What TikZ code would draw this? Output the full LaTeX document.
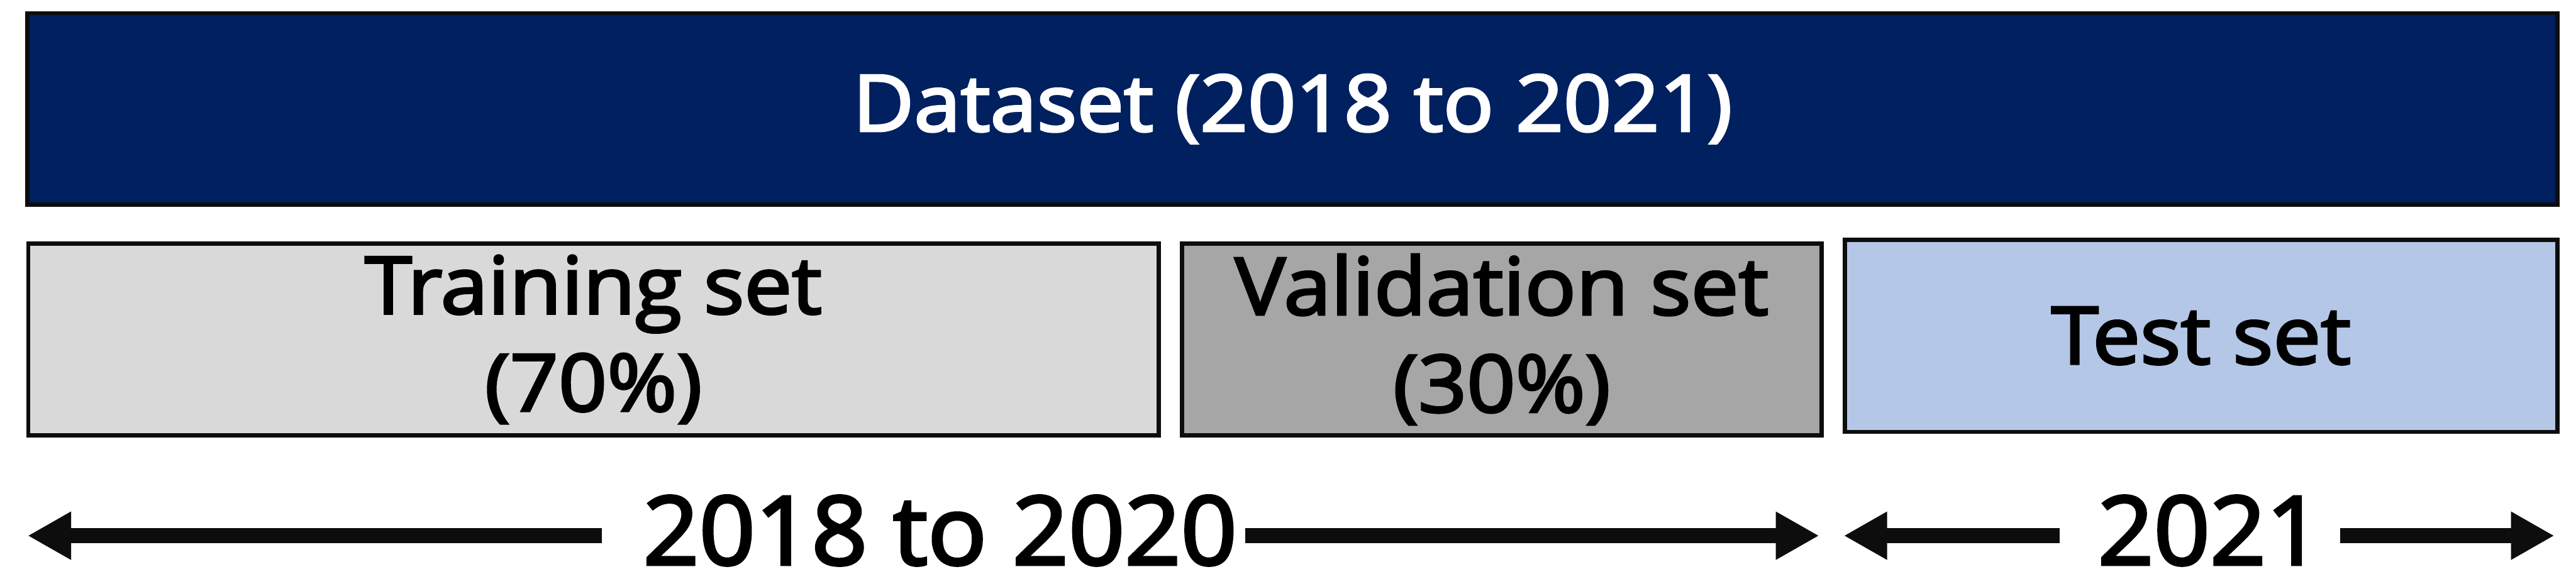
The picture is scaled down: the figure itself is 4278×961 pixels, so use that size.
\documentclass[tikz,border=0pt]{standalone}
\usepackage{fontspec}
\setmainfont{Open Sans}[FakeStretch=1.07, FakeBold=3]
\newfontfamily\botfont{Open Sans}[FakeStretch=1.03, FakeBold=3]
\usetikzlibrary{arrows.meta}
\definecolor{navy}{HTML}{002060}
\definecolor{trainfill}{HTML}{D9D9D9}
\definecolor{valfill}{HTML}{A6A6A6}
\definecolor{testfill}{HTML}{B4C7E7}
\definecolor{edge}{HTML}{0D0D0D}
\tikzset{
  box/.style={draw=edge, line width=0.07cm, inner sep=0pt, outer sep=0pt,
    align=center, font=\fontsize{37.5pt}{46pt}\selectfont, text=black},
  span/.style={draw=edge, line width=0.25cm,
    -{Triangle[length=0.72cm,width=0.75cm]}},
  yearlbl/.style={inner sep=0pt, anchor=base, text=black, text depth=0pt,
    font=\botfont\fontsize{45pt}{54pt}\selectfont}
}
\begin{document}
\begin{tikzpicture}[x=0.01cm, y=-0.01cm]
\useasboundingbox (0,0) rectangle (4278,961);
\node[box, fill=navy, text=white, minimum width=41.99cm, minimum height=3.18cm,
  font=\fontsize{37pt}{45pt}\selectfont] (data) at (2146.5,181) {Dataset (2018 to 2021)};
\node[box, fill=trainfill, minimum width=18.76cm, minimum height=3.19cm] (train) at (985.5,564) {Training set\\(70\%)};
\node[box, fill=valfill, minimum width=10.61cm, minimum height=3.19cm] (val) at (2494,564) {Validation set\\(30\%)};
\node[box, fill=testfill, minimum width=11.82cm, minimum height=3.19cm] (test) at (3655.5,558) {Test set};
\node[yearlbl] (y1) at (1561,938) {2018 to 2020};
\node[yearlbl] (y2) at (3670,938) {2021};
\coordinate (tipL) at (46,890);
\coordinate (tipM1) at (3021,890);
\coordinate (tipM2) at (3062,890);
\coordinate (tipR) at (4242,890);
\draw[span] ([xshift=-0.68cm]y1.west |- tipL) -- (tipL);
\draw[span] ([xshift=0.13cm]y1.east |- tipL) -- (tipM1);
\draw[span] ([xshift=-0.62cm]y2.west |- tipM2) -- (tipM2);
\draw[span] ([xshift=0.29cm]y2.east |- tipR) -- (tipR);
\end{tikzpicture}
\end{document}
